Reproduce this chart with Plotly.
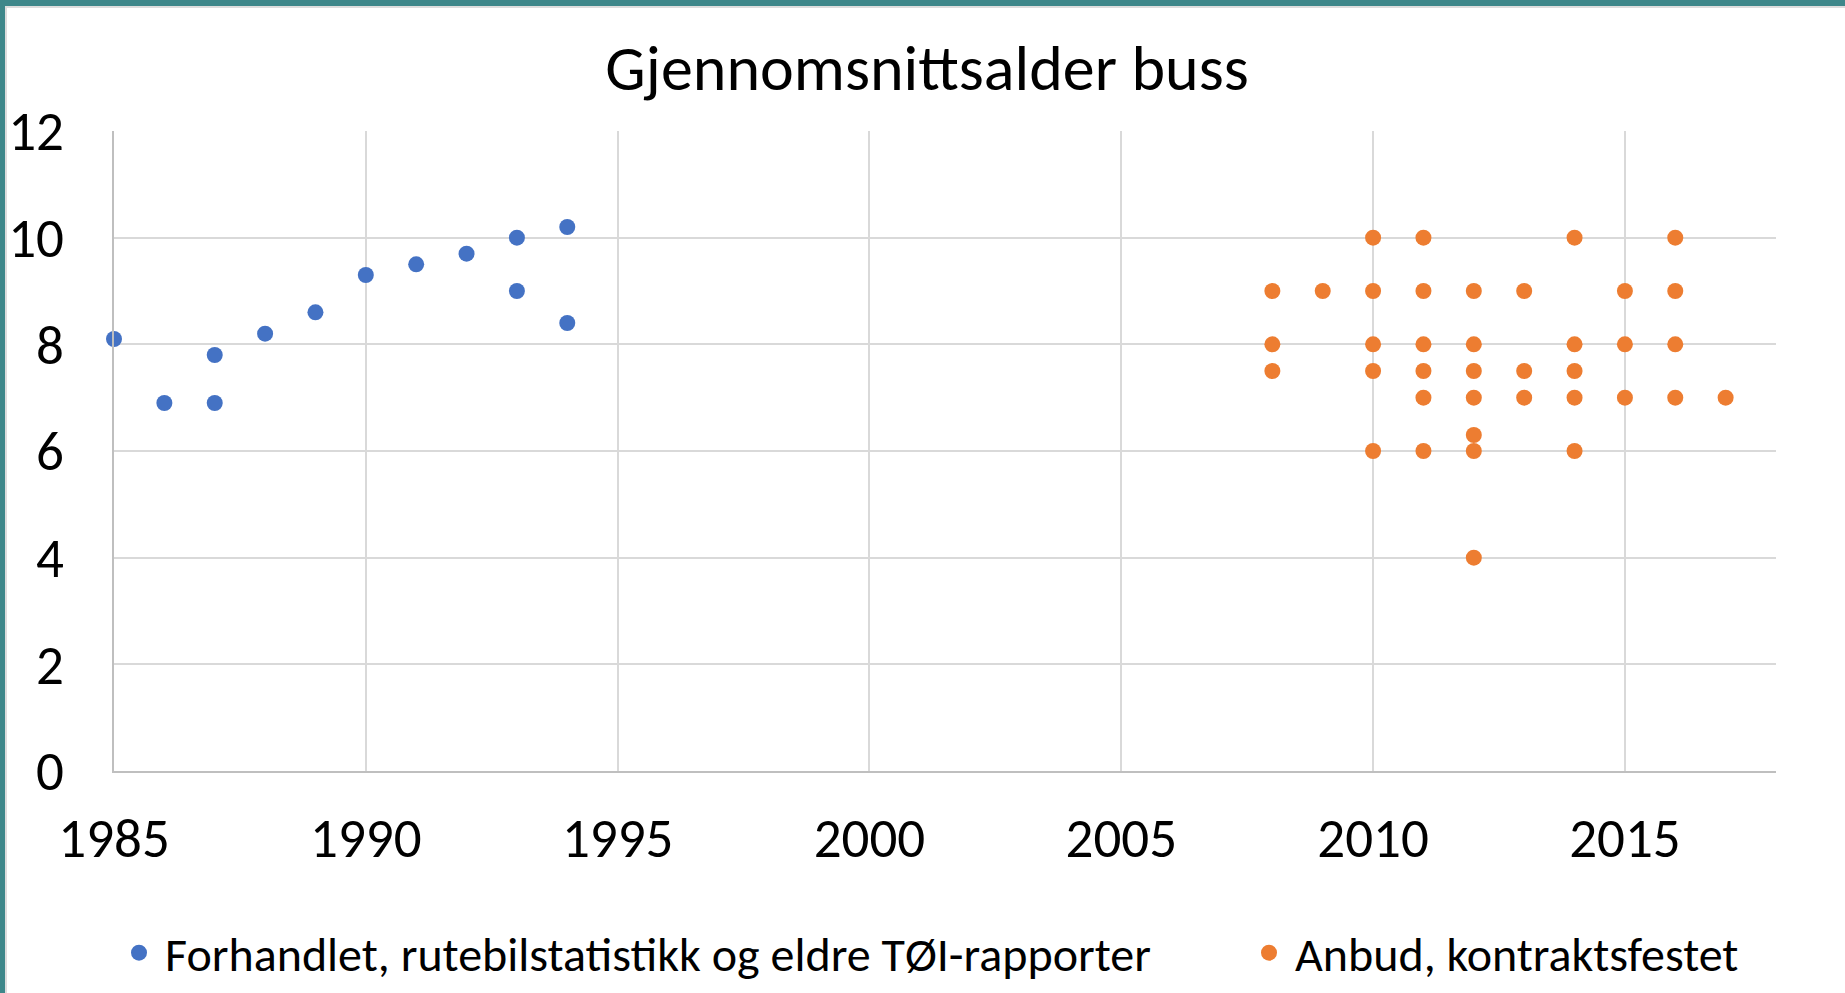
import plotly.graph_objects as go

# Data
forh_years = [1985, 1986, 1987, 1987, 1988, 1989, 1990, 1991, 1992, 1993, 1993, 1994, 1994]
forh_age = [8.1, 6.9, 7.8, 6.9, 8.2, 8.6, 9.3, 9.5, 9.7, 10.0, 9.0, 10.2, 8.4]

anbud_years = [2008, 2008, 2008,
               2009,
               2010, 2010, 2010, 2010, 2010,
               2011, 2011, 2011, 2011, 2011, 2011,
               2012, 2012, 2012, 2012, 2012, 2012, 2012,
               2013, 2013, 2013,
               2014, 2014, 2014, 2014, 2014,
               2015, 2015, 2015,
               2016, 2016, 2016, 2016,
               2017]
anbud_age = [9, 8, 7.5,
             9,
             10, 9, 8, 7.5, 6,
             10, 9, 8, 7.5, 7, 6,
             9, 8, 7.5, 7, 6.3, 6, 4,
             9, 7.5, 7,
             10, 8, 7.5, 7, 6,
             9, 8, 7,
             10, 9, 8, 7,
             7]

x_ticks = [1985, 1990, 1995, 2000, 2005, 2010, 2015]
y_ticks = [0, 2, 4, 6, 8, 10, 12]

title_text = "Gjennomsnittsalder buss"
name_forh = "Forhandlet, rutebilstatistikk og eldre TØI-rapporter"
name_anbud = "Anbud, kontraktsfestet"

FONT = "Carlito, Calibri, Lato, sans-serif"
W, H = 1845, 993
L, R, T, B = 114, 1776, 131, 771

def px(xp):
    return (xp - L) / (R - L)

def py(yp):
    return (B - yp) / (B - T)

fig = go.Figure()
fig.add_trace(go.Scatter(x=forh_years, y=forh_age, mode="markers", name=name_forh,
                         marker=dict(color="#4472C4", size=16), legend="legend",
                         cliponaxis=False))
fig.add_trace(go.Scatter(x=anbud_years, y=anbud_age, mode="markers", name=name_anbud,
                         marker=dict(color="#ED7D31", size=16), legend="legend2",
                         cliponaxis=False))

teal = "#3E878A"
shapes = [
    dict(type="rect", xref="paper", yref="paper", x0=px(0), x1=px(W), y0=py(0), y1=py(6),
         fillcolor=teal, line_width=0, layer="above"),
    dict(type="rect", xref="paper", yref="paper", x0=px(0), x1=px(W), y0=py(6), y1=py(8),
         fillcolor="#DDDDDD", line_width=0, layer="above"),
    dict(type="rect", xref="paper", yref="paper", x0=px(0), x1=px(5), y0=py(H), y1=py(0),
         fillcolor=teal, line_width=0, layer="above"),
    dict(type="rect", xref="paper", yref="paper", x0=px(5), x1=px(7), y0=py(H), y1=py(6),
         fillcolor="#DDDDDD", line_width=0, layer="above"),
]

fig.update_layout(
    width=W, height=H,
    margin=dict(l=L, r=W - R, t=T, b=H - B, autoexpand=False),
    paper_bgcolor="white", plot_bgcolor="white",
    font=dict(family=FONT, color="#000000"),
    title=dict(text=title_text, x=927 / W, xref="container", xanchor="center",
               y=1 - 68 / H, yref="container", yanchor="middle",
               font=dict(size=64, family=FONT, color="#000000")),
    xaxis=dict(range=[1985, 2018], tickvals=x_ticks, ticktext=[str(v) for v in x_ticks],
               showgrid=True, gridcolor="#D9D9D9", gridwidth=2,
               showline=True, linecolor="#BFBFBF", linewidth=2,
               zeroline=False, ticks="", ticklabelstandoff=18, automargin=False,
               tickfont=dict(size=55, family=FONT, color="#000000"), fixedrange=True),
    yaxis=dict(range=[0, 12], tickvals=y_ticks, ticktext=[str(v) for v in y_ticks],
               showgrid=True, gridcolor="#D9D9D9", gridwidth=2,
               showline=True, linecolor="#BFBFBF", linewidth=2,
               zeroline=False, ticks="", ticklabelstandoff=37, automargin=False,
               tickfont=dict(size=55, family=FONT, color="#000000"), fixedrange=True),
    legend=dict(orientation="h", x=px(113), xanchor="left", y=py(953), yanchor="middle",
                itemwidth=42,
                font=dict(size=48, family=FONT, color="#000000"), bgcolor="rgba(0,0,0,0)"),
    legend2=dict(orientation="h", x=px(1243), xanchor="left", y=py(953), yanchor="middle",
                 itemwidth=42,
                 font=dict(size=48, family=FONT, color="#000000"), bgcolor="rgba(0,0,0,0)"),
    shapes=shapes,
    showlegend=True,
)

fig.write_html("out.html", config={"displayModeBar": False},
               post_script="document.body.style.margin='0px';")
